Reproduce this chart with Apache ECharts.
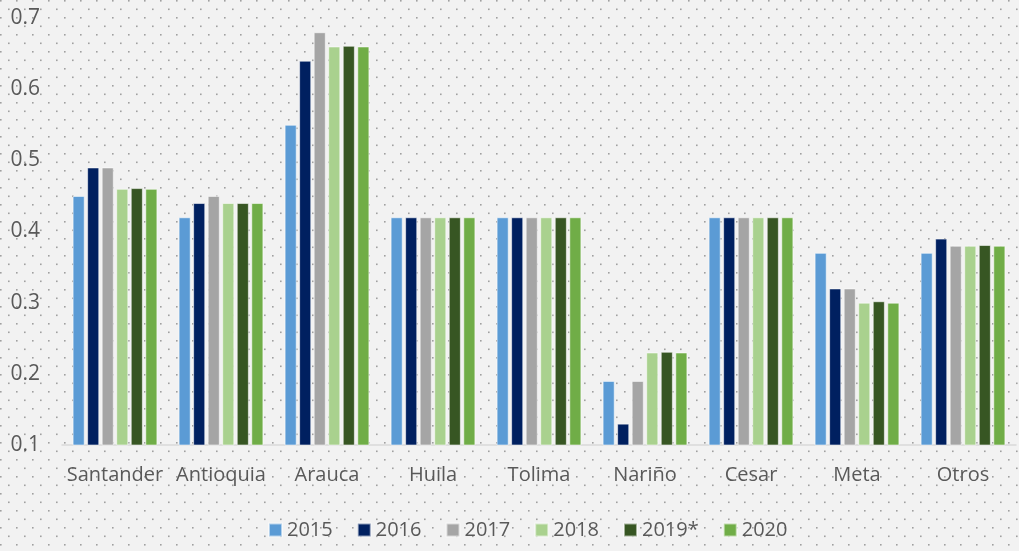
<!DOCTYPE html>
<html>
<head>
<meta charset="utf-8">
<script src="https://cdn.jsdelivr.net/npm/echarts@6/dist/echarts.min.js"></script>
<style>
  html, body { margin: 0; padding: 0; background: #f2f2f2; }
  #chart { width: 1019px; height: 551px; }
</style>
</head>
<body>
<div id="chart"></div>
<script>
const categories = ["Santander", "Antioquia", "Arauca", "Huila", "Tolima", "Nariño", "Cesar", "Meta", "Otros"];
const years = ["2015", "2016", "2017", "2018", "2019*", "2020"];

const v2015 = [0.45, 0.42, 0.55, 0.42, 0.42, 0.19, 0.42, 0.37, 0.37];
const v2016 = [0.49, 0.44, 0.64, 0.42, 0.42, 0.13, 0.42, 0.32, 0.39];
const v2017 = [0.49, 0.45, 0.68, 0.42, 0.42, 0.19, 0.42, 0.32, 0.38];
const v2018 = [0.46, 0.44, 0.66, 0.42, 0.42, 0.23, 0.42, 0.30, 0.38];
const v2019 = [0.461, 0.44, 0.661, 0.42, 0.42, 0.231, 0.42, 0.302, 0.381];
const v2020 = [0.46, 0.44, 0.66, 0.42, 0.42, 0.23, 0.42, 0.30, 0.38];

const colors = ["#5b9bd5", "#002060", "#a5a5a5", "#a9d18e", "#375623", "#70ad47"];

// dotted backdrop like the office chart style
const pat = document.createElement("canvas");
pat.width = 16;
pat.height = 17;
const ctx = pat.getContext("2d");
ctx.fillStyle = "#f2f2f2";
ctx.fillRect(0, 0, 16, 17);
ctx.fillStyle = "#a0a0a0";
ctx.fillRect(0, 0, 1.6, 1.6);
ctx.fillRect(8, 8.5, 1.6, 1.6);

const textColor = "#595959";
const font = "'Open Sans', sans-serif";

const allValues = [v2015, v2016, v2017, v2018, v2019, v2020];

const chart = echarts.init(document.getElementById("chart"));
chart.setOption({
  backgroundColor: { image: pat, repeat: "repeat" },
  animation: false,
  grid: { left: 62, right: 3, top: 18, bottom: 106 },
  legend: {
    bottom: 6,
    left: 263,
    icon: "rect",
    itemWidth: 13,
    itemHeight: 13,
    itemGap: 24,
    textStyle: { color: textColor, fontFamily: font, fontSize: 20 },
    data: years,
  },
  xAxis: {
    type: "category",
    data: categories,
    axisTick: { show: false },
    axisLine: { lineStyle: { color: "#d9d9d9", width: 1.5 } },
    axisLabel: { color: textColor, fontFamily: font, fontSize: 20, margin: 20, interval: 0 },
  },
  yAxis: {
    type: "value",
    min: 0.1,
    max: 0.7,
    interval: 0.1,
    splitLine: { show: false },
    axisLine: { show: false },
    axisTick: { show: false },
    axisLabel: {
      color: textColor,
      fontFamily: font,
      fontSize: 21,
      margin: 22,
      formatter: v => v.toFixed(1),
    },
  },
  series: years.map((y, i) => ({
    name: y,
    type: "bar",
    data: allValues[i],
    barGap: "20%",
    barCategoryGap: "20%",
    itemStyle: { color: colors[i], borderColor: "rgba(255,255,255,0.55)", borderWidth: 1 },
  })),
});
</script>
</body>
</html>
